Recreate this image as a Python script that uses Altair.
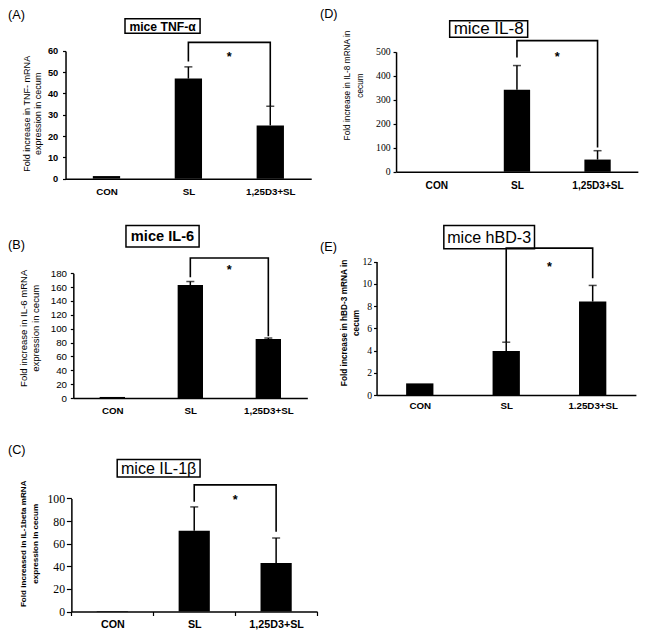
import altair as alt
import pandas as pd

SANS = "Liberation Sans"
SERIF = "Liberation Serif"
S = 0.975          # reference px -> chart px
CW, CH = 634, 621  # canvas (view) size

CATS = ["CON", "SL", "1,25D3+SL"]
CATS_E = ["CON", "SL", "1.25D3+SL"]

# (A) TNF-alpha
TNF_MEAN = [1.2, 47.0, 25.0]
TNF_UPPER = [None, 52.5, 34.0]
TNF_BRACKET = [55.0, 64.0, 34.0]   # left leg bottom, top, right leg bottom
TNF_STAR = 58.5
TNF_TICKS = [0, 10, 20, 30, 40, 50, 60]

# (B) IL-6
IL6_MEAN = [1.5, 163.0, 85.0]
IL6_UPPER = [None, 168.0, 86.5]
IL6_BRACKET = [174.0, 202.0, 89.0]
IL6_STAR = 189.0
IL6_TICKS = [0, 20, 40, 60, 80, 100, 120, 140, 160, 180]

# (C) IL-1beta
IL1B_MEAN = [0.5, 71.5, 43.0]
IL1B_UPPER = [None, 92.5, 65.0]
IL1B_BRACKET = [97.0, 112.0, 70.5]
IL1B_STAR = 101.5
IL1B_TICKS = [0, 20, 40, 60, 80, 100]

# (D) IL-8
IL8_MEAN = [0.0, 342.0, 51.0]
IL8_UPPER = [None, 443.0, 88.0]
IL8_BRACKET = [477.0, 547.0, 101.0]
IL8_STAR = 493.0
IL8_TICKS = [0, 100, 200, 300, 400, 500]

# (E) hBD-3
HBD3_MEAN = [1.05, 3.95, 8.4]
HBD3_UPPER = [None, 4.75, 9.85]
HBD3_BRACKET = [4.75, 13.2, 10.5]
HBD3_STAR = 11.8
HBD3_TICKS = [0, 2, 4, 6, 8, 10, 12]


def make_panel(p):
    cats = p["cats"]
    px0, py0, px1, py1 = [S * v for v in p["plot"]]
    W = px1 - px0

    ymax = p["ticks"][-1]
    xs = alt.Scale(domain=cats, range=[px0, px1], paddingInner=0, paddingOuter=0)
    ys = alt.Scale(domain=[0, ymax], range=[py1, py0], nice=False)

    xfs = p["xfs"] * S
    xtick = 4 if p["xticks"] else 0
    xpad = (S * p["xlab_y"] - py1) - 0.43 * xfs - xtick
    xaxis = alt.Axis(
        title=None, labelAngle=0, labelFont=SANS, labelFontSize=xfs,
        labelFontWeight="bold", labelColor="black", domainColor="black",
        domainWidth=1.5, labelPadding=xpad, ticks=p["xticks"],
        tickBand="extent", tickSize=4, tickColor="black", tickWidth=1.2,
        offset=py1 - CH, orient="bottom", zindex=1,
    )
    tfs = p["tfs"] * S
    ypad = (px0 - S * p["ylab_end"]) - p["ytick"]
    yaxis = alt.Axis(
        title=p["ytitle"], values=p["ticks"], grid=False, orient="left",
        offset=-px0,
        labelFont=p["yfont"], labelFontSize=p["yfs"] * S, labelFontWeight=p["yfw"],
        labelColor="black", tickColor="black", tickSize=p["ytick"], tickWidth=1.2,
        domainColor="black", domainWidth=1.5, labelPadding=ypad,
        titleFont=SANS, titleFontSize=tfs, titleFontWeight=p["tfw"],
        titleColor="black", titleLineHeight=S * p["tlh"],
        titleX=S * p["tc1"] + 0.45 * tfs - px0, titleY=S * p["tcy"],
        titleAlign="center", labelOverlap=False, zindex=1,
    )

    bars_df = pd.DataFrame({"cat": cats, "mean": p["mean"]})
    err_rows = [(c, m, u) for c, m, u in zip(cats, p["mean"], p["upper"]) if u is not None]
    err_df = pd.DataFrame(err_rows, columns=["cat", "mean", "upper"])
    br = p["bracket"]
    br_df = pd.DataFrame({
        "cat": [cats[1], cats[1], cats[2], cats[2]],
        "y": [br[0], br[1], br[1], br[2]],
        "o": [0, 1, 2, 3],
    })
    star_df = pd.DataFrame({"cat": [cats[1]], "y": [p["star"]]})
    one = pd.DataFrame({"t": [p["title"]], "lab": [p["letter"]]})

    def X():
        return alt.X("cat:N", scale=xs, axis=xaxis, sort=cats)

    def Y(field):
        return alt.Y(field, scale=ys, axis=yaxis)

    bars = alt.Chart(bars_df).mark_bar(color="black", size=p["bw"] * S).encode(
        x=X(), y=Y("mean:Q"),
    )
    err = alt.Chart(err_df).mark_rule(color="black", strokeWidth=1.5).encode(
        x=X(), y=Y("mean:Q"), y2="upper:Q"
    )
    cap = alt.Chart(err_df).mark_tick(color="black", thickness=1.5, size=8).encode(
        x=X(), y=Y("upper:Q")
    )
    bracket = alt.Chart(br_df).mark_line(color="black", strokeWidth=1.6).encode(
        x=X(), y=Y("y:Q"), order="o:Q"
    )
    star = alt.Chart(star_df).mark_text(
        text="*", font=SANS, fontSize=13 * S, fontWeight="bold", color="black",
        baseline="middle", dx=W / 6, dy=3,
    ).encode(x=X(), y=Y("y:Q"))
    bx0, bx1, by0, by1 = [S * v for v in p["box"]]
    box = alt.Chart(one).mark_rect(fill="white", stroke="black", strokeWidth=1.5).encode(
        x=alt.value(bx0), x2=alt.value(bx1), y=alt.value(by0), y2=alt.value(by1),
    )
    boxtext = alt.Chart(one).mark_text(
        font=SANS, fontSize=p["bfs"] * S, fontWeight=p["bfw"], color="black",
        align="center", baseline="middle",
    ).encode(x=alt.value((bx0 + bx1) / 2), y=alt.value((by0 + by1) / 2 + 0.5), text="t:N")
    label = alt.Chart(one).mark_text(
        font=SANS, fontSize=13 * S, color="black", align="left", baseline="top",
    ).encode(x=alt.value(S * p["lab"][0]), y=alt.value(S * p["lab"][1]), text="lab:N")

    return alt.layer(box, bars, err, cap, bracket, star, boxtext, label)


panelA = make_panel(dict(
    cats=CATS, mean=TNF_MEAN, upper=TNF_UPPER, bracket=TNF_BRACKET, star=TNF_STAR,
    ticks=TNF_TICKS, plot=(59, 44, 311, 175), bw=28,
    title="mice TNF-\u03b1", letter="(A)", bfs=12.5, bfw="bold", box=(120, 197, 11, 26),
    lab=(0, 1),
    ytitle=["Fold increase in TNF- mRNA", "expression in cecum"],
    tfs=9.3, tfw="normal", tlh=11.5, tc1=20, tcy=108,
    yfont=SANS, yfs=9.5, yfw="bold", ytick=3, ylab_end=51,
    xfs=10, xlab_y=187, xticks=False,
))

panelB = make_panel(dict(
    cats=CATS, mean=IL6_MEAN, upper=IL6_UPPER, bracket=IL6_BRACKET, star=IL6_STAR,
    ticks=IL6_TICKS, plot=(67, 272, 307, 400), bw=26,
    title="mice IL-6", letter="(B)", bfs=15, bfw="bold", box=(121, 196, 223, 245),
    lab=(0, 237),
    ytitle=["Fold increase in IL-6 mRNA", "expression in cecum"],
    tfs=9.8, tfw="normal", tlh=12.3, tc1=16.7, tcy=328,
    yfont=SANS, yfs=10, yfw="normal", ytick=3, ylab_end=60,
    xfs=10, xlab_y=411.7, xticks=False,
))

panelC = make_panel(dict(
    cats=CATS, mean=IL1B_MEAN, upper=IL1B_UPPER, bracket=IL1B_BRACKET, star=IL1B_STAR,
    ticks=IL1B_TICKS, plot=(65, 503, 317, 619), bw=32,
    title="mice IL-1\u03b2", letter="(C)", bfs=16.5, bfw="normal", box=(112, 197, 463, 481),
    lab=(0, 447),
    ytitle=["Fold increased in IL-1beta mRNA", "expression in cecum"],
    tfs=8.3, tfw="bold", tlh=13, tc1=16, tcy=549,
    yfont=SERIF, yfs=12, yfw="normal", ytick=5, ylab_end=58,
    xfs=11, xlab_y=631.7, xticks=True,
))

panelD = make_panel(dict(
    cats=CATS, mean=IL8_MEAN, upper=IL8_UPPER, bracket=IL8_BRACKET, star=IL8_STAR,
    ticks=IL8_TICKS, plot=(398, 45, 646, 168), bw=27,
    title="mice IL-8", letter="(D)", bfs=17.5, bfw="normal", box=(453, 533, 13, 30),
    lab=(320, 0),
    ytitle=["Fold increase in IL-8 mRNA in", "cecum"],
    tfs=8.5, tfw="normal", tlh=13.4, tc1=348.3, tcy=79,
    yfont=SERIF, yfs=10, yfw="normal", ytick=3, ylab_end=392,
    xfs=10.4, xlab_y=181.7, xticks=False,
))

panelE = make_panel(dict(
    cats=CATS_E, mean=HBD3_MEAN, upper=HBD3_UPPER, bracket=HBD3_BRACKET, star=HBD3_STAR,
    ticks=HBD3_TICKS, plot=(378, 260, 644, 397), bw=28,
    title="mice hBD-3", letter="(E)", bfs=16.5, bfw="normal", box=(447, 540, 223, 247),
    lab=(320, 239),
    ytitle=["Fold increase in hBD-3 mRNA in", "cecum"],
    tfs=8.5, tfw="bold", tlh=13, tc1=345, tcy=322.5,
    yfont=SERIF, yfs=10, yfw="normal", ytick=3, ylab_end=373,
    xfs=10, xlab_y=406.7, xticks=False,
))

chart = alt.layer(panelA, panelB, panelC, panelD, panelE).resolve_scale(
    x="independent", y="independent"
).properties(
    width=CW, height=CH, padding=0, background="white"
).configure_view(stroke="transparent")

chart.save("out.html", embed_options={"renderer": "svg", "actions": False})
